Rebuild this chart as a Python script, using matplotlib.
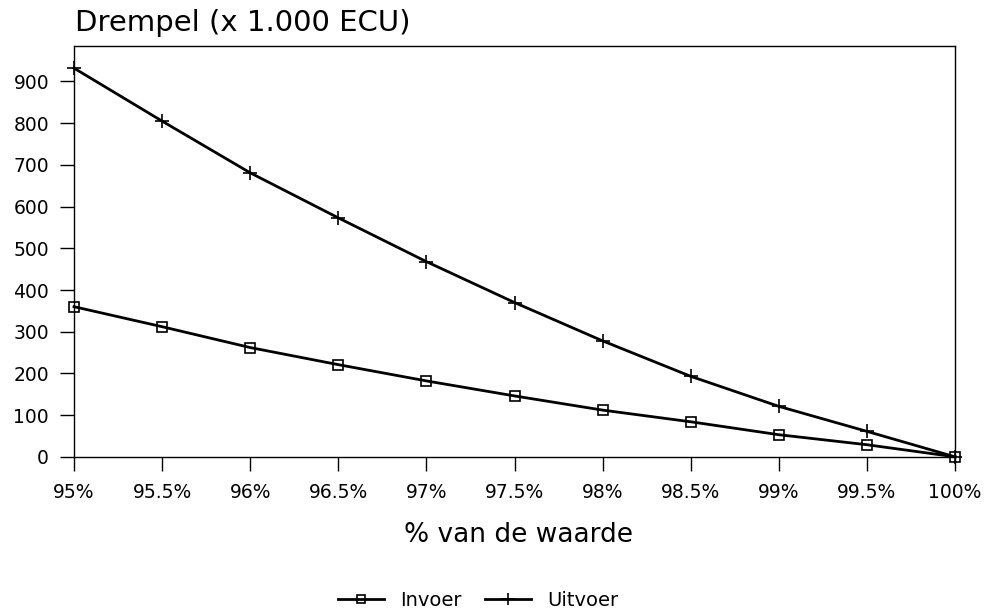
import matplotlib
matplotlib.use("Agg")
import matplotlib.pyplot as plt

pct = [95, 95.5, 96, 96.5, 97, 97.5, 98, 98.5, 99, 99.5, 100]
tick_labels = ["95%", "95.5%", "96%", "96.5%", "97%", "97.5%", "98%", "98.5%", "99%", "99.5%", "100%"]
invoer = [360, 312, 262, 221, 182, 146, 112, 84, 53, 29, 0]
uitvoer = [932, 805, 681, 573, 468, 370, 278, 193, 121, 61, 0]
yticks = [0, 100, 200, 300, 400, 500, 600, 700, 800, 900]

plt.rcParams['font.family'] = ['DejaVu Sans']
fig = plt.figure(figsize=(9.87, 6.14), dpi=100)
ax = fig.add_axes([0.075, 0.256, 0.8926, 0.669])

ax.plot(pct, invoer, color='black', lw=2, marker='s', ms=7, mfc='none', mec='black', mew=1.2,
        label='Invoer', clip_on=False, zorder=3)
ax.plot(pct, uitvoer, color='black', lw=2, marker='+', ms=10, mew=1.2,
        label='Uitvoer', clip_on=False, zorder=3)

ax.set_xlim(95, 100)
ax.set_ylim(0, 985)
ax.set_xticks(pct)
ax.set_xticklabels(tick_labels, fontsize=13.5)
ax.set_yticks(yticks)
ax.set_yticklabels([str(v) for v in yticks], fontsize=13.5)
ax.tick_params(axis='both', direction='out', length=10, width=1)
ax.tick_params(axis='x', pad=9)
ax.tick_params(axis='y', pad=8)
for s in ax.spines.values():
    s.set_linewidth(1)

fig.text(0.076, 0.963, "Drempel (x 1.000 ECU)", fontsize=21, ha='left', va='center')
fig.text(0.525, 0.128, "% van de waarde", fontsize=19, ha='center', va='center')

fig.legend(loc='center', bbox_to_anchor=(0.484, 0.022), ncol=2, frameon=False, fontsize=14,
           handlelength=2.4, handletextpad=0.8, columnspacing=1.2, borderaxespad=0,
           markerscale=0.9)

fig.savefig("out.png", dpi=100)
